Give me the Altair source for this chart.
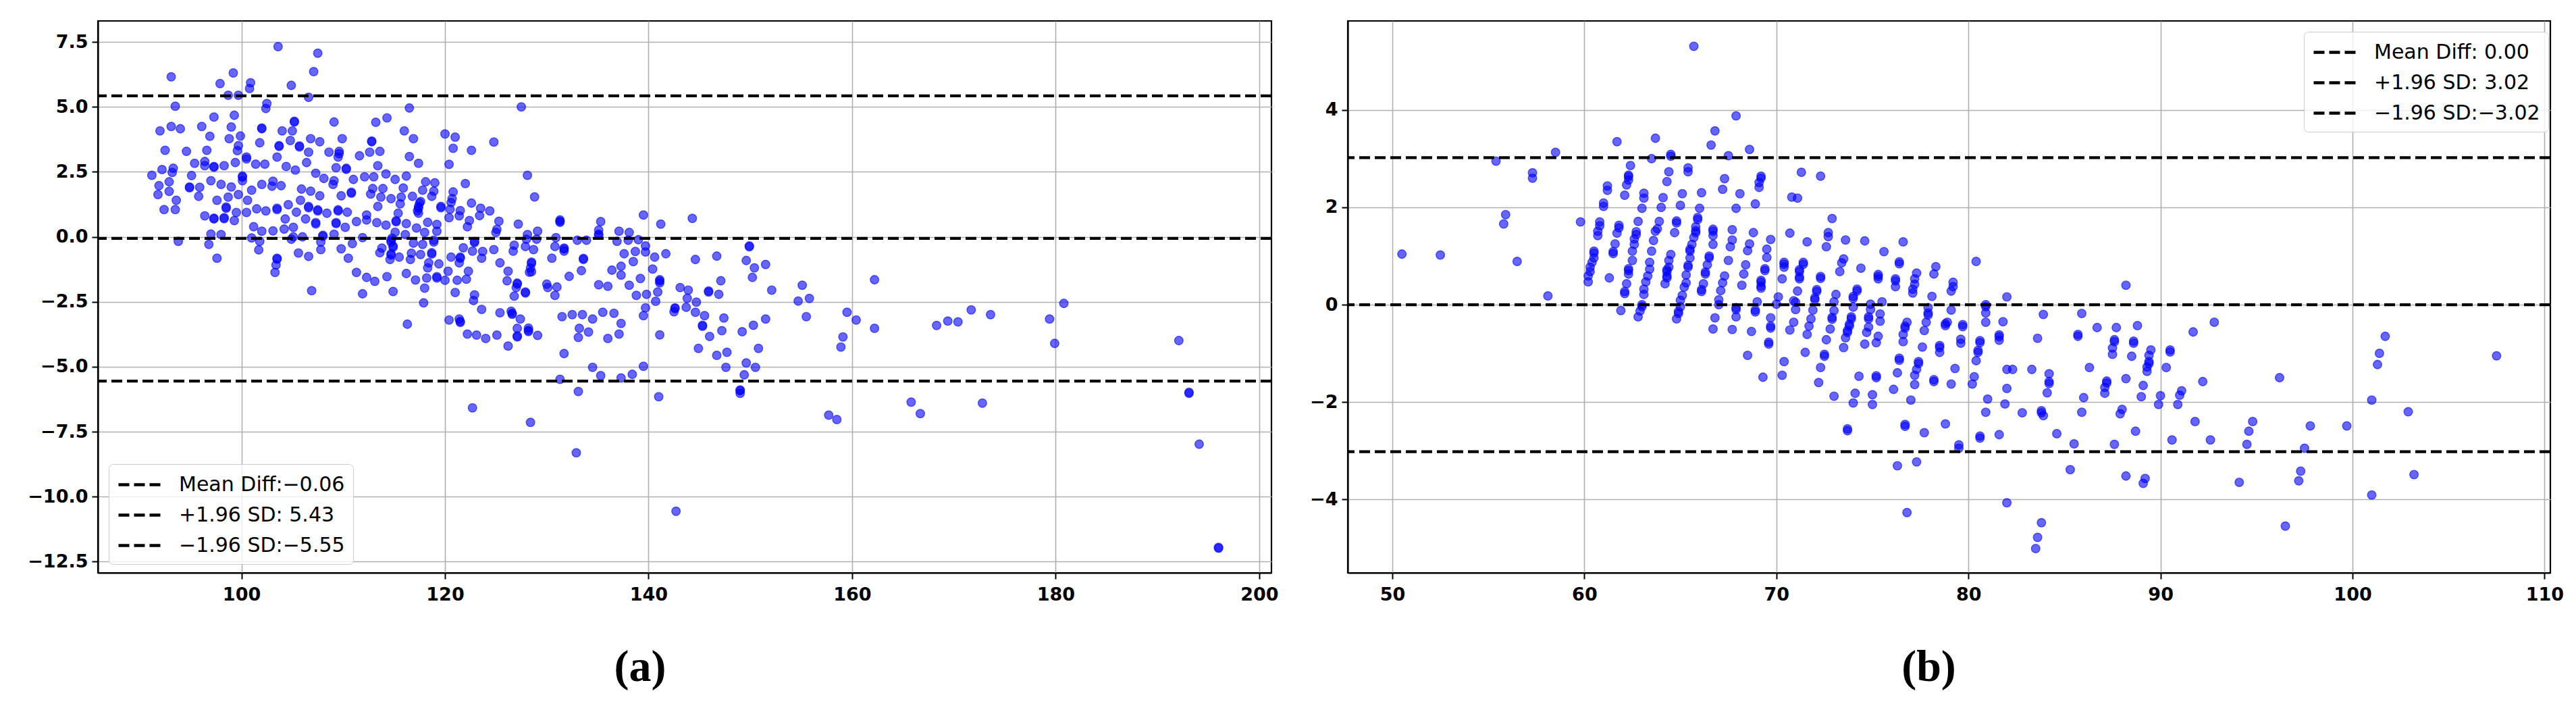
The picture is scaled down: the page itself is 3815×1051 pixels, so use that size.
import altair as alt
import pandas as pd

# ---------------- panel (a) ----------------
a_mean = [
    103.6, 107.5, 107.1, 93.1, 99.2, 97.9, 100.9, 100.8, 104.9, 98.7,
    99.7, 106.6, 93.5, 102.5, 102.4, 116.5, 97.3, 99.3, 114.3, 109.1,
    113.2, 105.2, 105.2, 92.0, 93.1, 94.0, 96.1, 99.0, 102.0, 102.0,
    104.0, 105.0, 96.9, 98.8, 99.9, 106.8, 107.7, 109.9, 112.8, 112.8,
    116.0, 116.9, 120.0, 121.0, 124.8, 104.8, 99.7, 101.8, 92.5, 94.6,
    96.6, 99.6, 103.7, 103.7, 105.7, 105.7, 106.6, 108.6, 109.6, 109.6,
    109.5, 111.6, 112.6, 113.6, 116.5, 117.4, 120.8, 122.6, 100.5, 100.5,
    103.5, 95.4, 96.4, 96.4, 97.3, 97.3, 98.3, 99.4, 101.4, 102.3,
    104.4, 105.3, 106.4, 109.3, 110.3, 110.3, 113.4, 120.4, 92.2, 93.3,
    93.2, 91.2, 95.1, 100.1, 100.1, 100.1, 107.3, 108.1, 109.1, 109.0,
    111.0, 112.1, 113.0, 114.2, 115.1, 116.2, 118.1, 119.0, 122.0, 92.9,
    91.9, 97.0, 98.0, 99.0, 94.9, 94.9, 95.9, 103.1, 103.0, 103.9,
    102.0, 101.0, 105.9, 106.8, 110.8, 110.8, 112.9, 113.9, 115.9, 117.8,
    118.9, 120.8, 91.8, 92.9, 95.8, 99.7, 98.7, 107.7, 109.8, 112.7,
    113.7, 114.7, 115.7, 116.8, 118.7, 120.7, 93.6, 97.6, 100.6, 105.8,
    117.6, 115.6, 120.6, 122.6, 92.4, 93.5, 98.5, 98.5, 99.5, 100.5,
    101.5, 102.4, 103.5, 103.5, 104.6, 105.4, 106.6, 106.6, 107.5, 107.5,
    108.4, 109.5, 109.5, 110.4, 113.4, 117.4, 117.4, 117.5, 117.3, 119.6,
    119.6, 117.4, 115.4, 120.5, 121.5, 123.5, 124.4, 123.4, 96.4, 97.3,
    97.3, 98.3, 98.3, 99.3, 104.3, 106.3, 107.3, 107.3, 109.3, 109.3,
    111.3, 112.3, 112.3, 113.3, 114.2, 115.2, 115.2, 116.2, 117.2, 118.3,
    119.2, 120.4, 121.4, 122.4, 122.2, 125.3, 125.1, 101.2, 102.0, 103.1,
    104.2, 105.1, 110.2, 115.1, 116.1, 118.0, 119.2, 125.0, 109.1, 97.0,
    98.0, 108.0, 108.0, 101.0, 104.9, 105.1, 106.0, 111.9, 114.7, 114.7,
    114.8, 118.9, 118.9, 122.9, 122.9, 93.8, 96.8, 101.8, 107.8, 110.9,
    116.9, 117.8, 113.8, 114.9, 114.9, 121.8, 124.8, 101.7, 107.8, 109.8,
    113.6, 114.7, 114.7, 116.7, 117.6, 118.7, 118.7, 122.7, 123.7, 97.6,
    103.5, 103.5, 105.6, 106.6, 110.5, 114.6, 115.5, 116.6, 118.4, 119.4,
    120.6, 121.5, 121.5, 121.4, 123.6, 125.4, 103.4, 103.3, 111.3, 116.2,
    118.3, 120.3, 122.3, 112.3, 113.1, 114.3, 117.1, 118.2, 119.2, 119.2,
    120.0, 121.2, 122.1, 106.9, 111.9, 114.9, 118.0, 121.0, 122.9, 117.9,
    116.3, 120.4, 121.4, 121.5, 121.5, 122.8, 123.6, 125.4, 122.2, 123.1,
    124.0, 125.1, 122.7, 127.5, 128.1, 128.8, 127.2, 129.1, 128.1, 128.0,
    129.0, 130.9, 131.3, 131.3, 131.3, 135.3, 135.1, 135.1, 135.1, 137.1,
    138.1, 139.5, 141.2, 144.3, 133.0, 133.9, 136.9, 138.0, 139.0, 126.8,
    127.9, 130.8, 131.7, 131.7, 131.7, 126.7, 128.7, 139.7, 139.7, 130.5,
    133.6, 133.6, 137.6, 138.7, 138.5, 140.6, 141.7, 144.6, 146.7, 149.9,
    149.9, 149.6, 150.4, 151.5, 150.2, 152.1, 155.1, 162.2, 128.5, 128.5,
    128.5, 128.3, 128.4, 126.2, 126.1, 127.1, 127.1, 127.0, 127.9, 127.9,
    126.8, 130.0, 130.1, 131.0, 130.8, 132.2, 133.4, 136.4, 137.3, 137.3,
    135.1, 136.0, 138.1, 139.2, 140.4, 141.1, 141.1, 141.1, 140.9, 143.1,
    143.9, 145.9, 145.9, 146.9, 147.1, 138.8, 139.8, 154.7, 155.8, 140.7,
    139.7, 139.5, 143.8, 143.7, 142.6, 142.6, 142.5, 144.7, 144.6, 145.5,
    147.4, 145.3, 145.3, 147.2, 146.0, 144.9, 146.7, 147.7, 149.2, 150.3,
    151.5, 150.8, 149.6, 150.5, 147.6, 149.4, 149.0, 149.0, 149.0, 141.0,
    155.5, 159.5, 160.4, 162.2, 159.1, 158.9, 157.7, 158.5, 126.5, 126.6,
    126.6, 127.4, 127.1, 127.1, 127.1, 128.2, 128.2, 128.2, 129.1, 126.2,
    128.4, 131.7, 131.5, 132.5, 133.5, 134.5, 135.5, 136.6, 137.3, 137.1,
    136.0, 134.1, 133.2, 133.1, 134.5, 135.3, 137.3, 138.4, 139.5, 131.3,
    133.1, 132.9, 142.7, 141.1, 165.8, 166.7, 168.3, 169.4, 170.4, 171.7,
    172.8, 173.6, 179.4, 179.9, 180.8, 192.1, 193.1, 193.1, 194.1, 196.0,
    196.0,
]
a_diff = [
    7.32, 7.07, 6.36, 6.16, 6.31, 5.90, 5.93, 5.71, 5.83, 5.45,
    5.45, 5.37, 5.03, 5.13, 4.94, 4.96, 4.61, 4.68, 4.58, 4.42,
    4.41, 4.42, 4.45, 4.08, 4.25, 4.16, 4.25, 4.23, 4.16, 4.19,
    4.08, 4.08, 3.87, 3.78, 3.88, 3.78, 3.66, 3.78, 3.66, 3.69,
    4.08, 3.78, 3.96, 3.84, 3.65, 3.71, 3.51, 3.62, 3.33, 3.29,
    3.33, 3.32, 3.51, 3.48, 3.46, 3.50, 3.26, 3.26, 3.29, 3.20,
    3.07, 3.12, 3.26, 3.29, 3.09, 2.83, 3.41, 3.33, 3.07, 3.00,
    3.07, 2.83, 2.90, 2.74, 2.68, 2.71, 2.74, 2.86, 2.80, 2.80,
    2.71, 2.57, 2.86, 2.66, 2.64, 2.60, 2.74, 2.79, 2.59, 2.64,
    2.48, 2.37, 2.36, 2.34, 2.30, 2.16, 2.45, 2.25, 2.16, 2.02,
    2.21, 2.31, 2.31, 2.42, 2.21, 2.34, 2.12, 2.08, 2.05, 2.12,
    1.97, 2.16, 2.02, 1.92, 1.89, 1.92, 1.91, 2.14, 1.95, 1.97,
    2.02, 1.80, 1.84, 1.76, 1.72, 1.68, 1.86, 1.86, 1.88, 1.80,
    1.76, 1.73, 1.63, 1.75, 1.56, 1.63, 1.53, 1.58, 1.58, 1.65,
    1.53, 1.47, 1.53, 1.56, 1.56, 1.47, 1.41, 1.41, 1.41, 1.41,
    1.36, 1.27, 1.32, 1.30, 1.05, 1.05, 1.15, 1.10, 0.94, 0.94,
    1.08, 1.00, 1.10, 1.05, 1.24, 0.95, 1.17, 1.12, 1.00, 1.04,
    0.91, 1.04, 1.00, 0.95, 1.17, 1.17, 1.10, 1.30, 1.00, 1.17,
    1.12, 0.91, 0.91, 1.06, 1.01, 1.10, 1.00, 0.82, 0.81, 0.69,
    0.72, 0.74, 0.70, 0.63, 0.69, 0.69, 0.55, 0.50, 0.51, 0.55,
    0.59, 0.84, 0.65, 0.55, 0.45, 0.58, 0.62, 0.51, 0.34, 0.56,
    0.48, 0.74, 0.81, 0.63, 0.39, 0.60, 0.29, 0.39, 0.22, 0.23,
    0.30, 0.37, 0.37, 0.18, 0.09, 0.17, 0.22, 0.17, 0.10, 0.11,
    0.09, 0.06, 0.02, -0.04, -0.09, 0.00, 0.00, -0.03, -0.13, -0.20,
    -0.05, -0.13, -0.20, -0.22, -0.18, -0.17, -0.29, -0.17, -0.20, -0.26,
    -0.24, -0.29, -0.43, -0.35, -0.40, -0.42, -0.49, -0.50, -0.49, -0.46,
    -0.61, -0.65, -0.70, -0.63, -0.68, -0.61, -0.66, -0.55, -0.56, -0.82,
    -0.82, -0.86, -0.62, -0.75, -0.82, -0.87, -0.78, -0.87, -1.00, -1.04,
    -0.78, -0.78, -0.82, -1.00, -0.82, -1.00, -1.08, -1.37, -1.37, -1.41,
    -1.19, -1.32, -1.32, -1.56, -1.71, -1.53, -1.66, -1.58, -1.53, -1.58,
    -1.67, -1.67, -1.63, -2.07, -2.19, -2.10, -1.97, -2.14, -2.23, -2.54,
    -3.36, -3.20, -3.16, -3.29, -3.25, -2.45, -2.79, -2.92, -3.74, -3.78,
    -3.91, -3.78, -6.58, 5.00, 2.37, 1.54, 0.49, 0.22, 0.09, -0.09,
    -0.09, -0.03, 0.65, 0.56, 0.60, 0.59, 0.26, 0.06, 0.10, 0.22,
    0.17, 0.84, 0.49, 0.71, -0.13, -0.13, -0.17, -0.13, -0.11, -0.32,
    -0.37, -0.37, -0.43, -0.47, -0.55, -0.55, -0.49, -0.35, -0.58, -0.82,
    -0.87, -0.83, -0.65, -0.56, -0.95, -0.78, -0.65, -0.87, -0.74, -0.35,
    -0.38, -0.91, -1.19, -1.06, -1.56, -2.05, -1.86, -1.65, -0.97, -1.02,
    -1.34, -1.36, -1.20, -1.32, -1.69, -1.82, -1.78, -1.95, -2.12, -2.16,
    -2.28, -1.82, -1.95, -1.93, -2.25, -1.52, -1.30, -1.28, -1.13, -1.47,
    -1.84, -1.90, -1.86, -1.60, -1.24, -1.65, -1.70, -1.77, -2.12, -1.95,
    -2.05, -2.08, -2.12, -2.21, -1.69, -2.25, -2.21, -2.47, -2.37, -2.48,
    -2.73, -3.03, -2.36, -2.71, -2.73, -2.76, -2.88, -2.51, -2.90, -3.03,
    -3.12, -3.44, -3.40, -3.61, -3.83, -4.29, -4.56, -4.44, -3.65, -3.40,
    -3.16, -4.29, -4.85, -5.02, -5.02, -5.31, -5.89, -5.92, -6.02, -6.15,
    -3.07, -2.90, -3.20, -3.52, -3.85, -4.24, -6.86, -7.03, -2.86, -2.94,
    -2.98, -3.16, -3.52, -3.81, -3.85, -3.51, -3.64, -3.60, -3.79, -4.20,
    -7.14, -4.49, -3.07, -2.99, -2.99, -3.16, -2.90, -2.94, -3.33, -3.74,
    -3.91, -3.66, -3.52, -3.87, -5.02, -5.34, -5.43, -5.29, -4.98, -5.48,
    -5.95, -8.31, -10.56, -3.77, -6.36, -6.80, -3.41, -3.24, -3.27, -2.81,
    -6.40, -2.99, -3.16, -4.10, -2.56, -3.99, -5.98, -6.02, -7.98, -11.95,
    -11.98,
]

# ---------------- panel (b) ----------------
b_mean = [
    50.5, 52.5, 55.4, 55.9, 55.8, 56.5, 57.3, 57.3, 58.5, 58.1,
    59.8, 65.7, 61.7, 63.7, 63.5, 64.5, 64.5, 62.4, 62.3, 62.3,
    62.3, 62.2, 62.1, 61.2, 61.2, 61.0, 61.0, 60.8, 60.8, 60.7,
    60.7, 60.5, 60.5, 60.5, 60.4, 60.3, 60.3, 60.2, 60.2, 61.3,
    61.8, 61.8, 61.7, 61.6, 61.5, 61.5, 63.1, 63.1, 63.0, 62.8,
    62.7, 62.7, 62.6, 62.6, 62.5, 62.5, 62.3, 62.3, 62.3, 62.2,
    62.1, 62.1, 61.9, 63.0, 63.0, 62.9, 62.8, 64.4, 64.3, 64.1,
    64.0, 63.9, 63.8, 63.7, 63.6, 63.5, 63.4, 63.4, 63.3, 63.2,
    63.1, 63.1, 64.5, 64.4, 64.4, 64.3, 64.3, 64.3, 64.3, 64.2,
    65.4, 65.4, 65.1, 65.0, 64.8, 64.8, 64.7, 66.0, 65.9, 65.9,
    65.8, 65.8, 65.8, 65.7, 65.6, 65.5, 65.5, 65.5, 65.4, 65.4,
    65.3, 65.3, 65.2, 65.1, 65.0, 65.0, 64.9, 64.9, 64.8, 66.1,
    66.6, 66.8, 67.9, 67.5, 68.6, 67.3, 67.2, 68.1, 67.9, 68.9,
    69.2, 69.2, 69.1, 69.1, 66.7, 66.7, 66.7, 66.7, 66.5, 66.5,
    66.4, 66.3, 66.3, 66.2, 66.1, 66.1, 67.7, 67.7, 67.6, 67.5,
    67.3, 67.2, 67.1, 67.0, 67.0, 66.8, 66.7, 68.8, 68.6, 68.5,
    68.4, 68.3, 68.2, 67.9, 67.9, 67.9, 67.7, 69.7, 69.5, 69.5,
    69.4, 69.4, 69.2, 69.2, 69.2, 69.2, 69.0, 68.9, 68.9, 68.7,
    68.5, 69.7, 69.7, 69.7, 69.6, 69.6, 69.3, 70.4, 70.3, 70.4,
    70.4, 70.4, 70.3, 70.1, 70.0, 70.8, 70.7, 70.9, 70.7, 71.3,
    72.3, 71.1, 72.9, 72.7, 72.7, 72.6, 71.6, 73.6, 74.6, 76.6,
    75.6, 73.5, 73.4, 73.3, 74.4, 76.4, 76.4, 75.3, 75.3, 75.3,
    76.2, 76.2, 76.2, 77.3, 77.2, 77.2, 77.1, 77.1, 78.3, 78.2,
    79.2, 79.2, 79.1, 80.4, 71.4, 71.4, 71.2, 71.2, 71.2, 71.2,
    71.1, 71.0, 71.0, 70.9, 72.3, 72.3, 72.1, 72.1, 72.0, 72.0,
    71.9, 71.8, 71.7, 71.6, 71.5, 73.1, 73.0, 73.0, 72.9, 72.9,
    72.8, 72.6, 72.5, 72.5, 72.3, 72.2, 73.0, 74.2, 74.2, 74.0,
    74.0, 74.0, 73.9, 73.9, 73.8, 73.8, 73.7, 73.7, 73.6, 73.5,
    74.3, 74.1, 74.0, 73.7, 73.7, 74.9, 74.9, 74.8, 74.8, 74.8,
    74.7, 74.6, 75.2, 75.2, 75.0, 75.0, 75.5, 75.4, 75.4, 75.3,
    75.2, 76.8, 76.7, 76.7, 76.6, 76.6, 76.4, 76.4, 76.3, 76.1,
    77.6, 77.4, 77.4, 77.3, 77.2, 77.2, 77.0, 76.7, 76.7, 77.7,
    76.3, 77.3, 78.1, 77.9, 77.9, 77.9, 77.8, 77.7, 78.5, 78.5,
    78.5, 78.2, 78.2, 79.1, 78.9, 78.8, 78.8, 79.3, 79.1, 78.8,
    79.5, 79.5, 79.7, 79.7, 79.6, 79.6, 80.3, 80.2, 80.9, 80.9,
    80.9, 80.9, 80.6, 80.6, 80.5, 80.5, 80.4, 81.0, 80.9, 80.6,
    80.6, 81.6, 82.0, 81.8, 81.6, 81.6, 81.6, 82.0, 82.0, 81.9,
    76.8, 83.9, 85.9, 83.6, 85.7, 85.7, 86.7, 87.7, 88.8, 88.2,
    82.3, 83.3, 84.2, 84.2, 84.2, 84.1, 82.8, 83.8, 83.8, 83.9,
    86.0, 85.9, 84.6, 85.5, 86.3, 87.6, 87.6, 87.5, 87.5, 88.6,
    88.6, 88.5, 87.2, 87.2, 87.1, 87.1, 88.2, 89.1, 89.0, 88.0,
    87.9, 88.7, 87.6, 85.3, 88.2, 89.2, 89.1, 89.5, 89.4, 89.4,
    89.4, 89.3, 89.3, 90.5, 90.5, 90.3, 90.0, 89.9, 91.1, 91.0,
    90.9, 91.7, 92.8, 92.2, 91.8, 90.6, 92.6, 94.8, 94.6, 94.5,
    94.1, 96.2, 82.0, 83.8, 83.6, 83.5, 96.5, 97.8, 97.5, 97.3,
    97.2, 99.7, 101.0, 101.7, 101.4, 101.3, 102.9, 103.2, 101.0, 107.5,
]
b_diff = [
    1.04, 1.02, 2.95, 1.85, 1.66, 0.89, 2.71, 2.60, 3.13, 0.18,
    1.70, 5.31, 3.35, 3.42, 3.00, 3.05, 3.09, 2.86, 2.63, 2.66,
    2.56, 2.46, 2.25, 2.44, 2.35, 2.09, 2.02, 1.70, 1.62, 1.51,
    1.42, 1.06, 1.10, 0.96, 0.87, 0.77, 0.68, 0.59, 0.47, 0.55,
    1.63, 1.58, 1.47, 1.25, 1.05, 1.09, 2.29, 2.19, 1.98, 1.71,
    1.44, 1.50, 1.35, 1.24, 1.10, 0.91, 0.70, 0.74, 0.63, 0.43,
    0.23, 0.27, -0.12, -0.04, 0.00, -0.13, -0.25, 2.73, 2.53, 2.20,
    2.00, 1.71, 1.56, 1.51, 1.32, 1.10, 0.87, 0.73, 0.59, 0.47,
    0.32, 0.21, 1.03, 0.91, 0.77, 0.68, 0.72, 0.59, 0.55, 0.43,
    2.81, 2.73, 2.28, 2.04, 1.68, 1.72, 1.48, 1.98, 1.75, 1.79,
    1.48, 1.52, 1.60, 1.38, 1.24, 1.10, 1.14, 0.96, 0.77, 0.81,
    0.61, 0.45, 0.36, 0.19, 0.09, -0.04, -0.18, -0.14, -0.29, 2.30,
    3.28, 3.57, 3.88, 3.06, 3.19, 2.59, 2.37, 2.28, 1.98, 2.07,
    2.60, 2.64, 2.51, 2.41, 1.51, 1.55, 1.42, 1.24, 0.96, 1.00,
    0.82, 0.63, 0.67, 0.43, 0.31, 0.27, 1.54, 1.33, 1.19, 0.91,
    0.59, 0.45, 0.29, 0.10, 0.00, -0.27, -0.50, 1.48, 1.25, 1.11,
    0.82, 0.63, 0.40, -0.10, -0.06, -0.25, -0.51, 1.34, 1.14, 0.97,
    0.70, 0.74, 0.50, 0.46, 0.38, 0.34, 0.06, -0.15, -0.11, -0.55,
    -1.04, -0.27, -0.48, -0.44, -0.81, -0.77, -1.49, -1.17, -1.45, 0.87,
    0.83, 0.77, 0.53, 0.16, 0.01, 2.21, 1.47, 0.08, -0.52, 2.72,
    2.64, 2.19, 1.77, 1.48, 1.40, 1.19, 1.29, 1.33, 1.31, 1.29,
    1.09, 0.94, 0.86, 0.68, 0.75, 0.84, 0.88, 0.58, 0.62, 0.53,
    0.49, 0.53, 0.37, 0.65, 0.53, 0.42, 0.32, 0.24, 0.78, 0.63,
    0.46, 0.37, 0.28, 0.89, 0.83, 0.87, 0.68, 0.72, 0.53, 0.57,
    0.28, 0.05, -0.10, -0.36, 0.54, 0.58, 0.27, 0.31, 0.10, 0.14,
    -0.11, -0.29, -0.44, -0.61, -0.98, 0.21, 0.06, -0.12, -0.30, -0.26,
    -0.50, -0.72, -1.06, -1.02, -1.29, -1.60, -1.88, 0.28, 0.32, 0.13,
    0.17, -0.05, -0.29, -0.25, -0.44, -0.40, -0.57, -0.53, -0.68, -0.88,
    -1.47, -1.82, -2.02, -2.59, -2.55, 0.01, -0.10, -0.29, -0.25, -0.46,
    -0.57, -0.81, -1.50, -1.46, -1.85, -2.05, 0.06, -0.19, -0.34, -0.65,
    -0.78, -0.36, -0.48, -0.44, -0.61, -0.76, -1.14, -1.10, -1.40, -1.74,
    -0.87, -1.21, -1.17, -1.33, -1.45, -1.64, -1.96, -2.50, -2.46, -2.63,
    -3.31, -3.23, 0.17, -0.06, -0.21, -0.17, -0.36, -0.53, -0.88, -0.84,
    -0.98, -1.58, -1.54, -0.11, -0.36, -0.43, -0.39, -1.31, -1.63, -2.45,
    -2.88, -2.95, -0.45, -0.41, -0.71, -0.79, -1.48, -1.63, -0.04, 0.00,
    -0.17, -0.36, -0.78, -0.74, -0.98, -0.94, -1.15, -1.94, -2.21, -2.74,
    -2.70, -2.67, 0.16, -0.35, -0.66, -0.62, -0.73, -1.33, -1.72, -2.04,
    -4.27, -0.20, -0.18, -0.69, -0.61, -0.65, -0.47, -0.47, -0.43, 0.40,
    -1.33, -1.33, -1.42, -1.62, -1.58, -1.81, -2.22, -2.18, -2.22, -2.28,
    -1.91, -2.21, -2.65, -2.86, -1.29, -0.72, -0.76, -0.89, -1.02, -0.75,
    -0.79, -1.06, -1.61, -1.57, -1.70, -1.82, -1.52, -1.66, -1.89, -2.15,
    -2.24, -2.60, -2.87, -3.39, -3.52, -3.57, -3.67, -0.93, -1.04, -1.17,
    -1.21, -1.28, -1.37, -0.93, -0.97, -1.29, -1.87, -2.05, -1.77, -1.86,
    -2.05, -0.56, -0.36, -1.58, -2.40, -2.78, -2.78, -2.40, -2.60, -2.87,
    -3.65, -1.50, -4.07, -4.48, -4.78, -5.01, -4.55, -2.49, -2.95, -3.42,
    -3.62, -2.49, -1.96, -0.65, -1.00, -1.23, -2.20, -3.49, -3.91, -1.05,
]

# reference lines and their legend texts
a_line_values = [-0.06, 5.43, -5.55]
a_line_labels = ["\u00a0Mean Diff:\u22120.06", "\u00a0+1.96 SD: 5.43", "\u22121.96 SD:\u22125.55"]
b_line_values = [0.00, 3.02, -3.02]
b_line_labels = ["\u00a0Mean Diff: 0.00", "\u00a0+1.96 SD: 3.02", "\u22121.96 SD:\u22123.02"]

# axes
a_x_ticks = [100, 120, 140, 160, 180, 200]
a_y_ticks = [-12.5, -10.0, -7.5, -5.0, -2.5, 0.0, 2.5, 5.0, 7.5]
b_x_ticks = [50, 60, 70, 80, 90, 100, 110]
b_y_ticks = [-4, -2, 0, 2, 4]
a_x_domain = [85.9, 201.2]
a_y_domain = [-12.93, 8.31]
b_x_domain = [47.68, 110.3]
b_y_domain = [-5.51, 5.83]


def panel(means, diffs, vals, labels, xdom, ydom, xt, yt, yfmt, w, h,
          caption, cap_dx, lx, ly):
    pts = pd.DataFrame({"m": means, "d": diffs})
    lines = pd.DataFrame({"v": vals, "label": labels})
    xs = alt.Scale(domain=xdom, nice=False, zero=False)
    ys = alt.Scale(domain=ydom, nice=False, zero=False)
    xax = alt.Axis(values=xt, format="d", title=None, labelPadding=10)
    yax = alt.Axis(values=yt, format=yfmt, title=None, labelPadding=6)
    scatter = alt.Chart(pts).mark_circle(
        size=160, fill="#0000ff", fillOpacity=0.6,
        stroke="#0000ff", strokeOpacity=0.6, strokeWidth=1.4
    ).encode(x=alt.X("m:Q", scale=xs, axis=xax),
             y=alt.Y("d:Q", scale=ys, axis=yax))
    leg = alt.Legend(
        orient="none", legendX=lx, legendY=ly, title=None,
        symbolType="M-1,0H3", symbolSize=1024, symbolStrokeWidth=4.3,
        labelFont="DejaVu Sans", labelFontSize=30, labelColor="black",
        labelOffset=55, rowPadding=11, padding=12,
        fillColor="rgba(255,255,255,0.8)", strokeColor="#cccccc",
        cornerRadius=6, labelLimit=600,
    )
    rules = alt.Chart(lines).mark_rule(strokeWidth=4.3).encode(
        y=alt.Y("v:Q", scale=ys, axis=yax),
        color=alt.Color("label:N", scale=alt.Scale(domain=labels, range=["black"] * 3), legend=leg),
        strokeDash=alt.StrokeDash("label:N", scale=alt.Scale(domain=labels, range=[[16, 7]] * 3), legend=leg),
    )
    return alt.layer(scatter, rules).properties(
        width=w, height=h,
        title=alt.TitleParams(
            text=caption, orient="bottom", anchor="middle", frame="group",
            dx=cap_dx, offset=63, font="Liberation Serif", fontSize=66,
            fontWeight="bold", color="black",
        ),
    )


left = panel(a_mean, a_diff, a_line_values, a_line_labels, a_x_domain, a_y_domain,
             a_x_ticks, a_y_ticks, ".1f", 1738, 817, "(a)", -66, 16, 656)
right = panel(b_mean, b_diff, b_line_values, b_line_labels, b_x_domain, b_y_domain,
              b_x_ticks, b_y_ticks, "d", 1781, 817, "(b)", -30, 1416, 16)

chart = alt.hconcat(left, right, spacing=43).resolve_scale(
    color="independent", strokeDash="independent", x="independent", y="independent"
).properties(
    padding={"left": 31, "top": 21, "right": 5, "bottom": 5}
).configure_view(
    stroke="black", strokeWidth=2.2
).configure_axis(
    labelFont="DejaVu Sans", labelFontWeight="bold", labelFontSize=27,
    labelColor="black", tickColor="black", tickSize=9, tickWidth=2,
    domainColor="black", domainWidth=2.2, gridColor="#b0b0b0", gridWidth=1.6,
)

chart.save("out.html", embed_options={"renderer": "svg", "actions": False})
